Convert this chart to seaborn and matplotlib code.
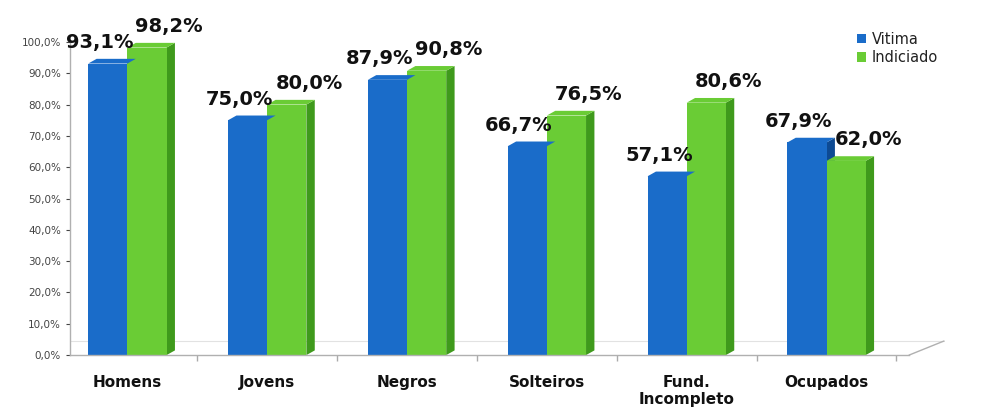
import matplotlib
matplotlib.use("Agg")
import matplotlib.pyplot as plt
import seaborn as sns
import pandas as pd
import numpy as np
from matplotlib.patches import Polygon
from matplotlib.ticker import FixedLocator, FuncFormatter

categories = ["Homens", "Jovens", "Negros", "Solteiros", "Fund.\nIncompleto", "Ocupados"]
vitima = [93.1, 75.0, 87.9, 66.7, 57.1, 67.9]
indiciado = [98.2, 80.0, 90.8, 76.5, 80.6, 62.0]
series = ["Vitima", "Indiciado"]
colors = {"Vitima": "#1a6cc9", "Indiciado": "#6acc35"}
side_colors = {"Vitima": "#0d4a93", "Indiciado": "#3f9a1c"}
label_dx = {"Vitima": -6, "Indiciado": 16}

df = pd.DataFrame({
    "cat": categories * 2,
    "serie": [series[0]] * len(categories) + [series[1]] * len(categories),
    "val": vitima + indiciado,
})

sns.set_theme(style="white")
plt.rcParams["font.family"] = ["DejaVu Sans"]

fig = plt.figure(figsize=(9.87, 4.11), dpi=100)
ax = fig.add_axes([0.071, 0.136, 0.85, 0.762])

sns.barplot(data=df, x="cat", y="val", hue="serie", order=categories,
            hue_order=series, palette=colors, width=0.56, ax=ax,
            saturation=1, legend=True, linewidth=0)

# pseudo-3D side faces and top faces
dx = 0.06
dy = 1.5
for cont, s in zip(ax.containers, series):
    for p, v in zip(cont.patches, cont.datavalues):
        x0 = p.get_x(); w = p.get_width(); h = p.get_height()
        side = Polygon([[x0 + w, 0], [x0 + w + dx, dy], [x0 + w + dx, h + dy], [x0 + w, h]],
                       closed=True, facecolor=side_colors[s], edgecolor="none", zorder=p.get_zorder() - 0.1)
        ax.add_patch(side)
        top = Polygon([[x0, h], [x0 + dx, h + dy], [x0 + w + dx, h + dy], [x0 + w, h]],
                      closed=True, facecolor=colors[s], edgecolor="none", zorder=p.get_zorder())
        ax.add_patch(top)
        ax.annotate(f"{v:.1f}%".replace(".", ","), xy=(x0 + w / 2, h + dy),
                    xytext=(label_dx[s], 5), textcoords="offset points",
                    ha="center", va="bottom", fontsize=14, fontweight="bold",
                    color="#111111", annotation_clip=False)

ax.yaxis.set_major_locator(FixedLocator(np.arange(0, 101, 10)))
ax.yaxis.set_major_formatter(FuncFormatter(lambda v, _: f"{v:.1f}%".replace(".", ",")))
ax.tick_params(axis="y", labelsize=7.5, colors="#444444", length=3, width=0.8, left=True, direction="out")
ax.tick_params(axis="x", labelsize=11, length=0, pad=14)
for t in ax.get_xticklabels():
    t.set_fontweight("bold")
    t.set_color("#111111")
ax.set_xticks(np.arange(-0.5, 6, 1), minor=True)
ax.tick_params(axis="x", which="minor", length=4, color="#aaaaaa", bottom=True)

ax.set_xlabel("")
ax.set_ylabel("")
for sp in ["top", "right"]:
    ax.spines[sp].set_visible(False)
for sp in ["left", "bottom"]:
    ax.spines[sp].set_color("#b0b0b0")
    ax.spines[sp].set_linewidth(1.0)

xl = (-0.41, 5.59)
# floor perspective line
ax.plot([xl[1], xl[1] + 0.25], [0, 4.5], color="#b0b0b0", lw=1.0, clip_on=False)
ax.plot([xl[0], xl[1] + 0.25], [4.5, 4.5], color="#e2e2e2", lw=0.8, clip_on=False, zorder=0)

ax.set_xlim(*xl)
ax.set_ylim(0, 100)

leg = ax.legend(loc="upper left", bbox_to_anchor=(0.855, 0.955), bbox_transform=fig.transFigure,
                frameon=False, fontsize=10.5, handlelength=0.6, handleheight=0.6,
                handletextpad=0.4, labelspacing=0.25)
for t in leg.get_texts():
    t.set_color("#222222")

fig.savefig("out.png", dpi=100)
